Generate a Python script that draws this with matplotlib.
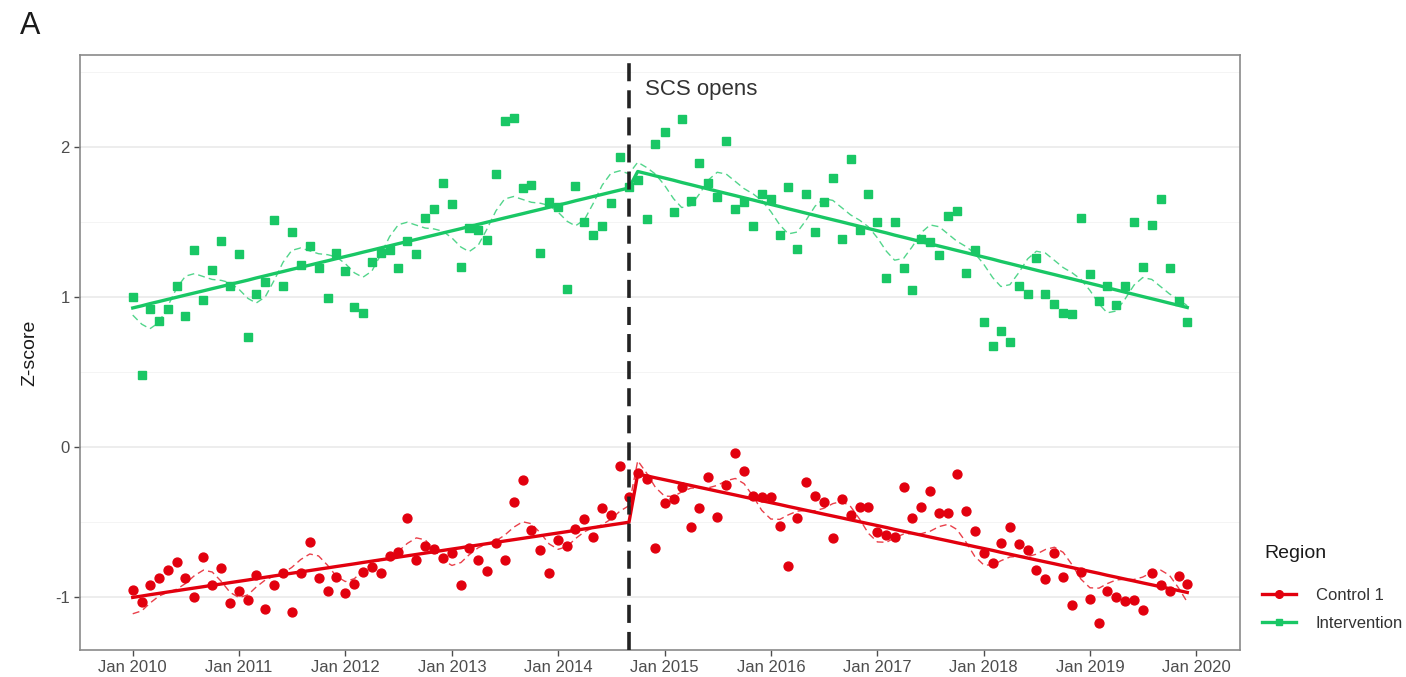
import numpy as np
import pandas as pd
import matplotlib
matplotlib.use('Agg')
import matplotlib.pyplot as plt
from matplotlib.lines import Line2D
from matplotlib.ticker import MultipleLocator

plt.rcParams['font.family'] = ['Liberation Sans', 'DejaVu Sans']

# Dados mensais (Jan 2010 - Dez 2019)
meses = pd.date_range('2010-01-01', periods=120, freq='MS')
abertura = pd.Timestamp('2014-09-01')   # SCS opens
inicio_pos = 57                          # primeiro mês do período pós

intervencao = [
    1.00, 0.48, 0.92, 0.84, 0.92, 1.075, 0.87, 1.31, 0.98, 1.18,
    1.375, 1.075, 1.285, 0.73, 1.02, 1.10, 1.51, 1.075, 1.435, 1.21,
    1.34, 1.19, 0.995, 1.29, 1.17, 0.935, 0.895, 1.235, 1.295, 1.313,
    1.19, 1.37, 1.285, 1.525, 1.585, 1.76, 1.62, 1.20, 1.46, 1.447,
    1.38, 1.82, 2.17, 2.19, 1.725, 1.747, 1.29, 1.635, 1.60, 1.05,
    1.74, 1.50, 1.413, 1.473, 1.625, 1.935, 1.735, 1.78, 1.52, 2.02,
    2.10, 1.565, 2.187, 1.64, 1.89, 1.76, 1.665, 2.04, 1.585, 1.63,
    1.47, 1.687, 1.65, 1.413, 1.73, 1.318, 1.687, 1.43, 1.635, 1.795,
    1.387, 1.917, 1.447, 1.687, 1.50, 1.125, 1.50, 1.19, 1.047, 1.385,
    1.365, 1.28, 1.54, 1.57, 1.162, 1.313, 0.83, 0.673, 0.775, 0.70,
    1.075, 1.018, 1.258, 1.018, 0.953, 0.89, 0.885, 1.525, 1.153, 0.97,
    1.075, 0.947, 1.073, 1.50, 1.198, 1.48, 1.65, 1.195, 0.97, 0.835,
]

controle = [
    -0.953, -1.03, -0.92, -0.87, -0.82, -0.765, -0.87, -1.0, -0.73, -0.92,
    -0.805, -1.04, -0.958, -1.02, -0.85, -1.08, -0.92, -0.843, -1.098, -0.843,
    -0.63, -0.87, -0.958, -0.865, -0.97, -0.91, -0.83, -0.80, -0.838, -0.727,
    -0.698, -0.47, -0.753, -0.66, -0.682, -0.742, -0.708, -0.92, -0.675, -0.753,
    -0.825, -0.638, -0.753, -0.365, -0.22, -0.553, -0.687, -0.838, -0.62, -0.66,
    -0.549, -0.482, -0.598, -0.409, -0.453, -0.125, -0.33, -0.175, -0.21, -0.67,
    -0.375, -0.347, -0.265, -0.53, -0.409, -0.198, -0.465, -0.253, -0.038, -0.158,
    -0.327, -0.335, -0.335, -0.527, -0.79, -0.47, -0.235, -0.327, -0.369, -0.605,
    -0.347, -0.453, -0.398, -0.402, -0.565, -0.587, -0.598, -0.265, -0.47, -0.402,
    -0.29, -0.443, -0.443, -0.182, -0.425, -0.558, -0.705, -0.771, -0.642, -0.535,
    -0.647, -0.687, -0.82, -0.88, -0.709, -0.869, -1.053, -0.831, -1.016, -1.171,
    -0.958, -0.998, -1.027, -1.02, -1.087, -0.843, -0.92, -0.958, -0.858, -0.913,
]

cor_verde = '#19C765'
cor_vermelho = '#E2000E'


def ajusta(y):
    # regressão segmentada com termos sazonais (harmônicos)
    y = np.asarray(y)
    t = np.arange(len(y), dtype=float)
    pos = (t >= inicio_pos).astype(float)
    tpos = (t - inicio_pos) * pos
    harm = [np.sin(2 * np.pi * t / 12), np.cos(2 * np.pi * t / 12),
            np.sin(4 * np.pi * t / 12), np.cos(4 * np.pi * t / 12)]
    X = np.column_stack([np.ones_like(t), t, pos, tpos] + harm)
    beta, *_ = np.linalg.lstsq(X, y, rcond=None)
    return X[:, :4] @ beta[:4], X @ beta


fig = plt.figure(figsize=(14.06, 6.77), dpi=100)
ax = fig.add_axes([80 / 1406, 27 / 677, 1160 / 1406, 595 / 677])

for serie, cor, marcador in [(controle, cor_vermelho, 'o'), (intervencao, cor_verde, 's')]:
    tendencia, completo = ajusta(serie)
    ax.plot(meses, serie, linestyle='none', marker=marcador, ms=6.4,
            color=cor, zorder=3)
    ax.plot(meses, completo, '--', color=cor, lw=1.0, alpha=0.75,
            dashes=(5, 3), zorder=4)
    ax.plot(meses, tendencia, '-', color=cor, lw=2.4, zorder=5)

ax.axvline(abertura, color='#222222', lw=2.6, ls=(0, (5, 2.5)), zorder=6)
ax.text(pd.Timestamp('2014-10-25'), 2.385, 'SCS opens', fontsize=16,
        color='#333333', va='center', ha='left')

# eixos
pad = (meses[-1] - meses[0]) * 0.05
ax.set_xlim(meses[0] - pad, meses[-1] + pad)
ax.set_ylim(-1.353, 2.613)
anos = pd.date_range('2010-01-01', '2020-01-01', freq='YS')
ax.set_xticks(anos)
ax.set_xticklabels([a.strftime('Jan %Y') for a in anos])
ax.set_yticks([-1, 0, 1, 2])
ax.set_yticklabels(['-1', '0', '1', '2'])
ax.yaxis.set_minor_locator(MultipleLocator(0.5))
ax.tick_params(axis='both', which='major', labelsize=12, colors='#4d4d4d',
               length=4, width=1, labelcolor='#4d4d4d')
ax.tick_params(axis='y', which='minor', length=0)
ax.grid(axis='y', which='major', color='#e8e8e8', lw=1.1)
ax.grid(axis='y', which='minor', color='#f3f3f3', lw=0.6)
ax.set_axisbelow(True)
for s in ax.spines.values():
    s.set_color('#8a8a8a')
    s.set_linewidth(1.2)

ax.set_ylabel('Z-score', fontsize=14, color='#1a1a1a', labelpad=12)

# legenda
fig.text(1264 / 1406, 1 - 553 / 677, 'Region', fontsize=14, color='#1a1a1a',
         va='center', ha='left')
itens = [Line2D([], [], color=cor_vermelho, lw=2.4, marker='o', ms=5.5),
         Line2D([], [], color=cor_verde, lw=2.4, marker='s', ms=5)]
leg = fig.legend(itens, ['Control 1', 'Intervention'],
                 loc='upper left', bbox_to_anchor=(1254 / 1406, 1 - 580 / 677),
                 frameon=False, fontsize=12,
                 handlelength=2.0, handletextpad=1.2, labelspacing=0.78,
                 borderpad=0)
for txt in leg.get_texts():
    txt.set_color('#333333')

fig.text(20 / 1406, 1 - 26 / 677, 'A', fontsize=22, va='center', ha='left',
         color='#1a1a1a')

fig.savefig('out.png', dpi=100)
